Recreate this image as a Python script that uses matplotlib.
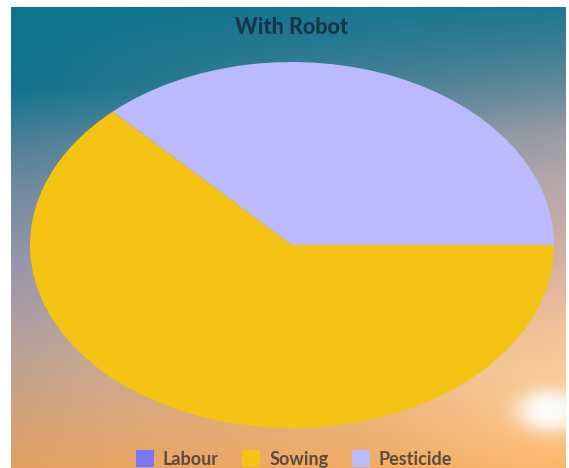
import numpy as np
import matplotlib
matplotlib.use("Agg")
import matplotlib.pyplot as plt

# chart data
title = "With Robot"
labels = ["Labour", "Sowing", "Pesticide"]
values = [0, 63, 37]
colors = ["#7676f6", "#f4c314", "#babafd"]

W, H = 569, 468
fig = plt.figure(figsize=(W / 100, H / 100), dpi=100, facecolor="white")

# background picture: sky gradient with a sun in the lower right
x0, x1, y0 = 11, 566, 7
bg = fig.add_axes([x0 / W, 0, (x1 - x0) / W, (H - y0) / H])
bg.axis("off")
bw, bh = x1 - x0, H - y0
py = np.arange(bh) + y0
left_y = [7, 90, 140, 200, 260, 310, 350, 400, 468]
left_c = np.array([[14, 116, 142], [18, 115, 142], [75, 128, 152], [120, 140, 162],
                   [148, 150, 170], [170, 156, 162], [185, 163, 152], [205, 162, 128],
                   [228, 160, 98]], float)
right_y = [7, 40, 80, 130, 180, 230, 280, 330, 370, 468]
right_c = np.array([[28, 120, 146], [55, 125, 148], [95, 135, 152], [150, 155, 165],
                    [183, 168, 170], [200, 172, 165], [225, 182, 160], [245, 192, 150],
                    [250, 200, 150], [250, 178, 100]], float)
colL = np.stack([np.interp(py, left_y, left_c[:, k]) for k in range(3)], axis=-1)
colR = np.stack([np.interp(py, right_y, right_c[:, k]) for k in range(3)], axis=-1)
fx = np.linspace(0, 1, bw)[None, :, None]
img = colL[:, None, :] * (1 - fx) + colR[:, None, :] * fx
# sun glow
PX, PY = np.meshgrid(np.arange(bw) + x0, py)
d_core = ((PX - 550) / 34) ** 2 + ((PY - 410) / 22) ** 2
d_halo = ((PX - 550) / 100) ** 2 + ((PY - 410) / 60) ** 2
core = np.exp(-d_core ** 1.5)
halo = 0.35 * np.exp(-d_halo)
warm = np.array([255, 215, 160])
img = img * (1 - halo[..., None]) + warm * halo[..., None]
img = img * (1 - core[..., None]) + 252 * core[..., None]
bg.imshow(np.clip(img, 0, 255).astype(np.uint8), aspect="auto",
          extent=[0, 1, 0, 1], interpolation="bilinear")

# stretched pie
ax = fig.add_axes([30 / W, 1 - 428 / H, 524 / W, 366 / H])
wedges, _ = ax.pie(values, colors=colors, startangle=133.2, counterclock=True,
                   wedgeprops=dict(linewidth=0))
ax.set_xlim(-1, 1)
ax.set_ylim(-1, 1)
ax.set_aspect("auto")
ax.patch.set_alpha(0)

fig.text(292 / W, 1 - 28 / H, title, ha="center", va="center",
         fontsize=15.5, fontweight="black", family="Lato", color="#183446")

leg = fig.legend(wedges, labels, loc="center", bbox_to_anchor=(294 / W, 1 - 459 / H),
                 ncol=3, frameon=False, handlelength=1.0, handleheight=1.0,
                 handletextpad=0.5, columnspacing=1.3,
                 prop=dict(family="Lato", weight="bold", size=13))
for txt in leg.get_texts():
    txt.set_color("#5a4a40")

fig.savefig("out.png", dpi=100, facecolor="white")
